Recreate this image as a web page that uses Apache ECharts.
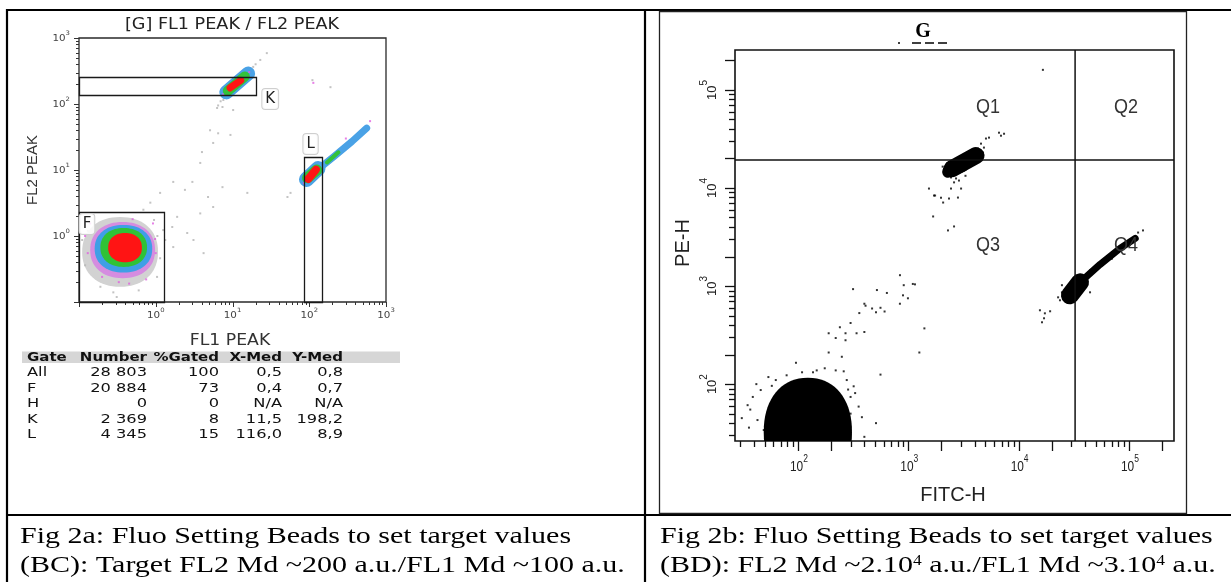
<!DOCTYPE html>
<html><head><meta charset="utf-8">
<script src="https://cdn.jsdelivr.net/npm/echarts@6/dist/echarts.min.js"></script>
<style>html,body{margin:0;padding:0;background:#fff}#c{width:1231px;height:582px}</style>
</head><body><div id="c"></div>
<script>
// ================= Fig 2a (BC) data =================
const leftTitle = '[G] FL1 PEAK / FL2 PEAK';
const leftXName = 'FL1 PEAK';
const leftYName = 'FL2 PEAK';
const leftRange = [0.1, 1000];
const tickMantissas = [1, 2, 3, 4, 5, 6, 7, 8, 9];
const leftDecades = [0.1, 1, 10, 100, 1000];
const leftLabelValues = [1, 10, 100, 1000];
const leftLabelExps = ['0', '1', '2', '3'];

// gates [xMin, xMax, yMin, yMax]
const gateNames = ['F', 'K', 'L'];
const gateBoxes = [[0.1, 1.29, 0.1, 2.3], [0.1, 20, 137, 257], [85, 145, 0.1, 15.7]];
const gateLabelPos = [[0.127, 1.52], [31, 119], [104, 24.8]];

// F population density layers (extents) : outer -> core
const fLayers = [
  [0.11, 1.07, 0.17, 1.94],
  [0.14, 0.98, 0.23, 1.63],
  [0.16, 0.90, 0.28, 1.47],
  [0.19, 0.77, 0.34, 1.32],
  [0.24, 0.66, 0.40, 1.11]
];
// K population ridge points per density layer
const kOuter = [[8.3, 150], [16, 290]];
const kMid = [[8.7, 158], [14.5, 262]];
const kCore = [[9.3, 175], [12.8, 228]];
// L population ridge points per density layer
const lOuter = [[88, 6.8], [120, 9.5], [210, 16], [360, 27], [560, 43]];
const lOuterBlob = [[92, 7.2], [130, 10.5]];
const lMid = [[95, 7.6], [125, 10]];
const lMidTail = [[170, 13], [240, 18.5]];
const lCore = [[97, 7.3], [122, 10.1]];

const leftGrayDots = [[4.0,18.7],[5.6,25.7],[5.1,40],[6.5,36],[9.4,34],[3.8,12.8],[10.2,81],[7.4,90],[1.69,6.6],[3.0,6.6],
  [1.14,4.5],[2.4,5.0],[4.8,3.9],[5.6,2.75],[3.8,2.2],[1.9,1.95],[1.64,1.37],[2.57,1.11],[1.69,0.68],[4.2,0.55],
  [3.1,0.87],[15.6,4.5],[7.4,5.5],[52,3.9],[57,4.5],[110,230],[189,180],[28,590],[23,465],[18.6,365],
  [6.3,87],[7.6,115],[0.85,3.2],[0.69,2.5],[1.25,1.23],[1.33,0.87],[0.31,0.119],[1.14,0.46],[1.04,0.24],[0.12,0.36],
  [0.11,0.87],[0.19,0.17],[6.5,95],[7.0,110],[20,400],[0.13,1.2],[0.95,1.75],[0.28,0.14],[0.6,0.15],[1.05,1.0]];
const leftMagentaDots = [[113,209],[7.5,140],[16.5,305],[0.14,1.55],[0.92,1.55],[0.2,0.24],[0.75,0.22],[1.0,0.55],
  [0.13,0.55],[0.5,1.8],[0.33,0.2],[300,30],[620,55],[85,6.3],[0.12,1.0],[0.98,0.9],[0.45,0.19]];

const statsHeader = ['Gate', 'Number', '%Gated', 'X-Med', 'Y-Med'];
const statsRows = [
  ['All', '28 803', '100', '0,5', '0,8'],
  ['F', '20 884', '73', '0,4', '0,7'],
  ['H', '0', '0', 'N/A', 'N/A'],
  ['K', '2 369', '8', '11,5', '198,2'],
  ['L', '4 345', '15', '116,0', '8,9']
];

// ================= Fig 2b (BD) data =================
const rightTitle = 'G';
const rightXName = 'FITC-H';
const rightYName = 'PE-H';
const rightRangeX = [26.9, 256000];
const rightRangeY = [26.3, 255000];
const rightDecades = [10, 100, 1000, 10000, 100000];
const rightLabelValues = [100, 1000, 10000, 100000];
const rightLabelExps = ['2', '3', '4', '5'];
const quadGate = [[32500, 19300]];
const quadNames = ['Q1', 'Q2', 'Q3', 'Q4'];
const quadLabelPos = [[5280, 65800], [94200, 65800], [5280, 2600], [94200, 2600]];

const mainBlob = [[49, 309, 9.0, 116]];
const q1Blob = [[2490, 15700], [4110, 21400]];
const q1BlobLow = [[2300, 14600], [3100, 16800]];
const q4Blob = [[29200, 804], [36000, 1090]];
const q4Streak = [[36000, 1090], [54700, 1660], [83000, 2420], [114000, 3060]];

const rightDiagDots = [[316,930],[520,910],[640,850],[910,1020],[1100,1050],[410,630],[470,590],[560,600],[840,660],[400,660],
  [360,530],[510,540],[610,550],[240,380],[300,420],[190,330],[270,330],[340,330],[400,340],[220,295],
  [270,280],[190,210],[250,190],[1400,370],[1260,210],[560,125],[841,1290],[1150,1040],[896,804],[993,750]];
const rightBlobEdgeDots = [[175,145],[260,135],[96,165],[137,132],[54,118],[63,110],[79,123],[109,132],[148,138],[220,138],
  [277,110],[330,81],[355,59],[380,46],[300,74],[46,87],[39,74],[43,43],[49,34],[36,36],
  [290,32],[270,43],[510,40],[400,29],[31,45],[35,61],[37,55],[320,95],[285,88],[42,100],[58,96],[300,50]];
const rightQ1Dots = [[4560,28300],[5060,31900],[5390,32600],[6640,36600],[6920,34100],[7380,35700],[4850,25800],[4290,25200],
  [3940,22900],[4760,22900],[2110,15700],[2200,14000],[2440,12800],[2710,12500],[2880,11900],[2600,11400],[2440,9860],
  [3010,9860],[1980,7950],[1710,8370],[2340,7800],[2070,7100],[2820,7980],[1680,5120],[2290,3690],[2600,4050],
  [1540,9860],[1750,8370],[16600,160000],[2250,17800],[4600,19500],[3300,13300],[2050,16500]];
const rightQ4Dots = [[134000,3690],[121000,3510],[23700,716],[24700,863],[44400,1450],[60700,1740],[15600,566],[17300,527],
  [19300,553],[17000,469],[16300,427],[24700,1020],[44400,863],[22800,767],[70000,1900],[100000,2900]];

const captionA = ['Fig 2a: Fluo Setting Beads to set target values', '(BC): Target FL2 Md ~200 a.u./FL1 Md ~100 a.u.'];
const captionB = ['Fig 2b: Fluo Setting Beads to set target values', '(BD): FL2 Md ~2.10{s|4} a.u./FL1 Md ~3.10{s|4} a.u.'];

// ================= rendering =================
const chart = echarts.init(document.getElementById('c'), null, {renderer: 'canvas', width: 1231, height: 582});

function buildTicks(decades, lo, hi) {
  const out = [];
  decades.forEach(d => tickMantissas.forEach(m => {
    const v = d * m;
    if (v >= lo * 0.999 && v <= hi * 1.001) out.push({v: v, m: m});
  }));
  return out;
}
const leftTicks = buildTicks(leftDecades, leftRange[0], leftRange[1]);
const rightXTicks = buildTicks(rightDecades, rightRangeX[0], rightRangeX[1]);
const rightYTicks = buildTicks(rightDecades, rightRangeY[0], rightRangeY[1]);

const crisp = v => Math.round(v) + 0.5;

function ellipseRender(colors, power) {
  const e = 2 / (power || 2);
  return function (p, api) {
    const a = api.coord([api.value(0), api.value(2)]);
    const b = api.coord([api.value(1), api.value(3)]);
    const cx = (a[0] + b[0]) / 2, cy = (a[1] + b[1]) / 2;
    const rx = Math.abs(b[0] - a[0]) / 2, ry = Math.abs(b[1] - a[1]) / 2;
    const pts = [];
    for (let i = 0; i < 72; i++) {
      const t = i / 72 * Math.PI * 2, c = Math.cos(t), s = Math.sin(t);
      pts.push([cx + rx * Math.sign(c) * Math.pow(Math.abs(c), e), cy + ry * Math.sign(s) * Math.pow(Math.abs(s), e)]);
    }
    return {type: 'polygon', shape: {points: pts}, style: {fill: colors[p.dataIndex % colors.length]}};
  };
}
function streak(data, width, color, xi) {
  return {type: 'line', xAxisIndex: xi, yAxisIndex: xi, data: data, showSymbol: false, symbol: 'none', silent: true,
    lineStyle: {width: width, color: color, cap: 'round', join: 'round'}, z: 3, animation: false};
}
function dots(data, color, size, xi, z) {
  return {type: 'scatter', xAxisIndex: xi, yAxisIndex: xi, data: data, symbol: 'rect', symbolSize: size, silent: true,
    itemStyle: {color: color}, z: z || 4, animation: false};
}
function supText(exp, base, sup, color, fam) {
  return {text: '{b|10}{s|' + exp + '}', rich: {
    b: {fontSize: base, fontFamily: fam, fill: color, verticalAlign: 'bottom', padding: [Math.round(base * 0.45), 0, 0, 0]},
    s: {fontSize: sup, fontFamily: fam, fill: color, verticalAlign: 'top'}}};
}

const series = [];
// ---- left: F population
series.push({type: 'custom', coordinateSystem: 'cartesian2d', xAxisIndex: 0, yAxisIndex: 0, data: fLayers, clip: true, silent: true, z: 2,
  renderItem: ellipseRender(['#d2d2d2', '#d58ce0', '#3f9fe6', '#30c236', '#ff1414'], 2.2)});
// ---- left: K & L populations
series.push(streak(kOuter, 14, '#4aa2e6', 0), streak(kMid, 10, '#33c23a', 0), streak(kCore, 7, '#ff1414', 0));
series.push(streak(lOuter, 7, '#4aa2e6', 0), streak(lOuterBlob, 15, '#4aa2e6', 0), streak(lMid, 11, '#33c23a', 0),
  streak(lMidTail, 4, '#33c23a', 0), streak(lCore, 8, '#ff1414', 0));
series.push(dots(leftGrayDots, '#b4b4b4', 2, 0), dots(leftMagentaDots, '#e060e0', 2, 0));
// ---- left gates
series.push({type: 'custom', coordinateSystem: 'cartesian2d', xAxisIndex: 0, yAxisIndex: 0, data: gateBoxes, clip: false, silent: true, z: 6,
  renderItem: function (p, api) {
    const a = api.coord([api.value(0), api.value(2)]), b = api.coord([api.value(1), api.value(3)]);
    return {type: 'rect', shape: {x: crisp(Math.min(a[0], b[0])), y: crisp(Math.min(a[1], b[1])), width: Math.round(Math.abs(b[0] - a[0])), height: Math.round(Math.abs(b[1] - a[1]))},
      style: {fill: null, stroke: '#1a1a1a', lineWidth: 1.3}};
  }});
series.push({type: 'custom', coordinateSystem: 'cartesian2d', xAxisIndex: 0, yAxisIndex: 0, data: gateLabelPos, clip: false, silent: true, z: 7,
  renderItem: function (p, api) {
    const c = api.coord([api.value(0), api.value(1)]);
    return {type: 'text', x: c[0], y: c[1], style: {text: gateNames[p.dataIndex], font: '15px "DejaVu Sans"', fill: '#222',
      align: 'center', verticalAlign: 'middle', backgroundColor: 'rgba(255,255,255,0.85)', borderColor: '#cfcfcf', borderWidth: 1,
      borderRadius: 3, padding: [3, 3, 2, 3]}};
  }});
// ---- left ticks
series.push({type: 'custom', coordinateSystem: 'cartesian2d', xAxisIndex: 0, yAxisIndex: 0, data: leftTicks.map(t => [t.v, leftRange[0]]), clip: false, silent: true, z: 5,
  renderItem: function (p, api) {
    const t = leftTicks[p.dataIndex];
    const cx = api.coord([t.v, leftRange[0]]);
    const cy = api.coord([leftRange[0], t.v]);
    const len = t.m === 1 ? 5 : 3;
    return {type: 'group', children: [
      {type: 'line', shape: {x1: crisp(cx[0]), y1: cx[1], x2: crisp(cx[0]), y2: cx[1] + len}, style: {stroke: '#333', lineWidth: 1}},
      {type: 'line', shape: {x1: cy[0], y1: crisp(cy[1]), x2: cy[0] - len, y2: crisp(cy[1])}, style: {stroke: '#333', lineWidth: 1}}
    ]};
  }});
series.push({type: 'custom', coordinateSystem: 'cartesian2d', xAxisIndex: 0, yAxisIndex: 0, data: leftLabelValues.map(v => [v, v]), clip: false, silent: true, z: 5,
  renderItem: function (p, api) {
    const v = api.value(0), e = leftLabelExps[p.dataIndex];
    const cx = api.coord([v, leftRange[0]]);
    const cy = api.coord([leftRange[0], v]);
    return {type: 'group', children: [
      {type: 'text', x: cx[0], y: cx[1] + 12, scaleX: 1.15, style: Object.assign(supText(e, 9, 6, '#444', 'DejaVu Sans'), {align: 'center', verticalAlign: 'middle'})},
      {type: 'text', x: cy[0] - 9, y: cy[1] - 1, scaleX: 1.15, style: Object.assign(supText(e, 9, 6, '#444', 'DejaVu Sans'), {align: 'right', verticalAlign: 'middle'})}
    ]};
  }});

// ---- right: populations
series.push({type: 'custom', coordinateSystem: 'cartesian2d', xAxisIndex: 1, yAxisIndex: 1, data: mainBlob, clip: true, silent: true, z: 2,
  renderItem: ellipseRender(['#000'], 2.2)});
series.push(streak(q1Blob, 17, '#000', 1), streak(q1BlobLow, 12, '#000', 1), streak(q4Blob, 18, '#000', 1), streak(q4Streak, 7, '#000', 1));
series.push(Object.assign(dots(rightDiagDots, '#000', 2, 1), {clip: true}), dots(rightBlobEdgeDots, '#000', 2, 1),
  dots(rightQ1Dots, '#000', 2, 1), dots(rightQ4Dots, '#000', 2, 1));
// ---- right gates
series.push({type: 'custom', coordinateSystem: 'cartesian2d', xAxisIndex: 1, yAxisIndex: 1, data: quadGate, clip: false, silent: true, z: 6,
  renderItem: function (p, api) {
    const gx = api.value(0), gy = api.value(1);
    const b = api.coord([gx, rightRangeY[0]]), t = api.coord([gx, rightRangeY[1]]);
    const l = api.coord([rightRangeX[0], gy]), r = api.coord([rightRangeX[1], gy]);
    return {type: 'group', children: [
      {type: 'line', shape: {x1: b[0], y1: b[1], x2: t[0], y2: t[1]}, style: {stroke: '#111', lineWidth: 1.5}},
      {type: 'line', shape: {x1: l[0], y1: l[1], x2: r[0], y2: r[1]}, style: {stroke: '#111', lineWidth: 1.5}}
    ]};
  }});
series.push({type: 'custom', coordinateSystem: 'cartesian2d', xAxisIndex: 1, yAxisIndex: 1, data: quadLabelPos, clip: false, silent: true, z: 7,
  renderItem: function (p, api) {
    const c = api.coord([api.value(0), api.value(1)]);
    return {type: 'text', x: c[0], y: c[1], scaleX: 0.9, style: {text: quadNames[p.dataIndex], font: '20px "Liberation Sans"', fill: '#333', align: 'center', verticalAlign: 'middle'}};
  }});
// ---- right ticks
series.push({type: 'custom', coordinateSystem: 'cartesian2d', xAxisIndex: 1, yAxisIndex: 1, data: rightXTicks.map(t => [t.v, rightRangeY[0]]), clip: false, silent: true, z: 5,
  renderItem: function (p, api) {
    const t = rightXTicks[p.dataIndex];
    const c = api.coord([t.v, rightRangeY[0]]);
    const len = (t.m === 1 || t.m === 2) ? 10 : 6;
    return {type: 'line', shape: {x1: crisp(c[0]), y1: c[1], x2: crisp(c[0]), y2: c[1] + len}, style: {stroke: '#111', lineWidth: 1.3}};
  }});
series.push({type: 'custom', coordinateSystem: 'cartesian2d', xAxisIndex: 1, yAxisIndex: 1, data: rightYTicks.map(t => [rightRangeX[0], t.v]), clip: false, silent: true, z: 5,
  renderItem: function (p, api) {
    const t = rightYTicks[p.dataIndex];
    const c = api.coord([rightRangeX[0], t.v]);
    const len = (t.m === 1 || t.m === 2) ? 10 : 6;
    return {type: 'line', shape: {x1: c[0], y1: crisp(c[1]), x2: c[0] - len, y2: crisp(c[1])}, style: {stroke: '#111', lineWidth: 1.3}};
  }});
series.push({type: 'custom', coordinateSystem: 'cartesian2d', xAxisIndex: 1, yAxisIndex: 1, data: rightLabelValues.map(v => [v, v]), clip: false, silent: true, z: 5,
  renderItem: function (p, api) {
    const v = api.value(0), e = rightLabelExps[p.dataIndex];
    const cx = api.coord([v, rightRangeY[0]]);
    const cy = api.coord([rightRangeX[0], v]);
    return {type: 'group', children: [
      {type: 'text', x: cx[0] + 1, y: cx[1] + 23, scaleX: 0.85, style: Object.assign(supText(e, 14, 10, '#222', 'Liberation Sans'), {align: 'center', verticalAlign: 'middle'})},
      {type: 'text', x: cy[0] - 26, y: cy[1], rotation: Math.PI / 2, style: Object.assign(supText(e, 13, 10, '#222', 'Liberation Sans'), {align: 'center', verticalAlign: 'middle'})}
    ]};
  }});

// ---- static graphics: table frame, titles, captions, stats table
const g = [];
const L = (x1, y1, x2, y2, w, c) => g.push({type: 'line', silent: true, shape: {x1, y1, x2, y2}, style: {stroke: c || '#000', lineWidth: w}});
L(6, 10, 1231, 10, 2.2); L(7, 9, 7, 582, 2.2); L(645, 9, 645, 582, 2.2); L(6, 515, 1231, 515, 2.2);
g.push({type: 'rect', silent: true, shape: {x: 659.5, y: 11.5, width: 527, height: 502}, style: {fill: null, stroke: '#222', lineWidth: 1.3}});
// left title & axis names
g.push({type: 'text', x: 232, y: 25, scaleX: 1.1, style: {text: leftTitle, font: '16px "DejaVu Sans"', fill: '#222', align: 'center', verticalAlign: 'middle'}});
g.push({type: 'text', x: 230, y: 341, scaleX: 1.15, style: {text: leftXName, font: '15px "DejaVu Sans"', fill: '#333', align: 'center', verticalAlign: 'middle'}});
g.push({type: 'text', x: 33, y: 170, rotation: Math.PI / 2, style: {text: leftYName, font: '15px "Liberation Sans"', fill: '#333', align: 'center', verticalAlign: 'middle'}});
// stats table
g.push({type: 'rect', silent: true, shape: {x: 22, y: 351.5, width: 378, height: 11.5}, style: {fill: '#d6d6d6'}});
const colX = [27, 147, 219, 282, 343];
statsHeader.forEach((h, i) => g.push({type: 'text', x: colX[i], y: 357.5, scaleX: 1.2,
  style: {text: h, font: 'bold 12.5px "DejaVu Sans"', fill: '#111', align: i === 0 ? 'left' : 'right', verticalAlign: 'middle'}}));
statsRows.forEach((r, j) => r.forEach((cell, i) => g.push({type: 'text', x: colX[i], y: 373 + j * 15.5, scaleX: 1.25,
  style: {text: cell, font: '13px "DejaVu Sans"', fill: '#111', align: i === 0 ? 'left' : 'right', verticalAlign: 'middle'}})));
// right title & axis names
g.push({type: 'text', x: 923, y: 32, style: {text: rightTitle, font: 'bold 20px "Liberation Serif"', fill: '#000', align: 'center', verticalAlign: 'middle'}});
g.push({type: 'line', silent: true, shape: {x1: 898, y1: 43, x2: 900, y2: 43}, style: {stroke: '#000', lineWidth: 1.4}});
g.push({type: 'line', silent: true, shape: {x1: 912, y1: 43, x2: 948, y2: 43}, style: {stroke: '#000', lineWidth: 1.4, lineDash: [9, 4]}});
g.push({type: 'text', x: 953, y: 495, style: {text: rightXName, font: '20px "Liberation Sans"', fill: '#222', align: 'center', verticalAlign: 'middle'}});
g.push({type: 'text', x: 683, y: 243, rotation: Math.PI / 2, style: {text: rightYName, font: '20px "Liberation Sans"', fill: '#222', align: 'center', verticalAlign: 'middle'}});
// captions
const capRich = {s: {fontSize: 14, fontFamily: 'Liberation Serif', fill: '#000', verticalAlign: 'top'}};
[[captionA, 20], [captionB, 660]].forEach(([cap, x]) => cap.forEach((line, k) => g.push({type: 'text', x: x, y: 537 + k * 29, scaleX: 1.25,
  style: {text: line, font: '24px "Liberation Serif"', fill: '#000', align: 'left', verticalAlign: 'middle', rich: capRich}})));

chart.setOption({
  animation: false,
  backgroundColor: '#fff',
  grid: [
    {left: 79, top: 38, width: 307, height: 264, show: true, borderColor: '#2a2a2a', borderWidth: 1.3, backgroundColor: 'transparent', containLabel: false, outerBoundsMode: 'none'},
    {left: 735, top: 50, width: 439, height: 391, show: true, borderColor: '#111', borderWidth: 1.6, backgroundColor: 'transparent', containLabel: false, outerBoundsMode: 'none'}
  ],
  xAxis: [
    {gridIndex: 0, type: 'log', logBase: 10, min: leftRange[0], max: leftRange[1], show: false},
    {gridIndex: 1, type: 'log', logBase: 10, min: rightRangeX[0], max: rightRangeX[1], show: false}
  ],
  yAxis: [
    {gridIndex: 0, type: 'log', logBase: 10, min: leftRange[0], max: leftRange[1], show: false},
    {gridIndex: 1, type: 'log', logBase: 10, min: rightRangeY[0], max: rightRangeY[1], show: false}
  ],
  series: series,
  graphic: {elements: g}
});
</script></body></html>
